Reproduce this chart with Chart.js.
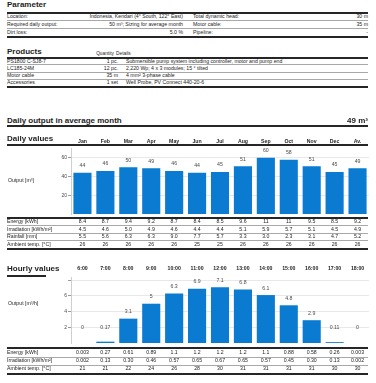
<!DOCTYPE html>
<html>
<head>
<meta charset="utf-8">
<script src="https://cdn.jsdelivr.net/npm/chart.js@4.4.1/dist/chart.umd.min.js"></script>
<style>
  body { margin: 0; width: 376px; height: 383px; background: #fff; position: relative; overflow: hidden;
         font-family: "Liberation Sans", Arial, sans-serif; color: #1e1e1e; }
  .t { position: absolute; white-space: nowrap; line-height: 1; }
  .thin { position: absolute; left: 7px; width: 361px; height: 1px; background: #a8a8a8; }
  .thick { position: absolute; left: 7px; width: 361px; height: 2px; background: #262626; }
  canvas { position: absolute; left: 0; }
</style>
</head>
<body>
<canvas id="dailyChart" style="top:130px" width="376" height="88"></canvas>
<canvas id="hourlyChart" style="top:262px" width="376" height="85"></canvas>
<script>
const months = ["Jan", "Feb", "Mar", "Apr", "May", "Jun", "Jul", "Aug", "Sep", "Oct", "Nov", "Dec", "Av."];
const dailyOutput = [44, 46, 50, 49, 46, 44, 45, 51, 60, 58, 51, 45, 49];
const dailyEnergy = ["8.4", "8.7", "9.4", "9.2", "8.7", "8.4", "8.5", "9.6", "11", "11", "9.5", "8.5", "9.2"];
const dailyIrradiation = ["4.5", "4.6", "5.0", "4.9", "4.6", "4.4", "4.4", "5.1", "5.9", "5.7", "5.1", "4.5", "4.9"];
const dailyRainfall = ["5.5", "5.6", "6.3", "6.3", "9.0", "7.7", "5.7", "3.3", "3.0", "2.3", "3.1", "4.7", "5.2"];
const dailyTemp = ["26", "26", "26", "26", "26", "25", "25", "26", "26", "26", "26", "26", "26"];
const dailyTicks = [20, 40, 60];

const hours = ["6:00", "7:00", "8:00", "9:00", "10:00", "11:00", "12:00", "13:00", "14:00", "15:00", "16:00", "17:00", "18:00"];
const hourlyOutput = [0, 0.17, 3.1, 5, 6.3, 6.9, 7.1, 6.8, 6.1, 4.8, 2.9, 0.11, 0];
const hourlyEnergy = ["0.003", "0.27", "0.61", "0.89", "1.1", "1.2", "1.2", "1.2", "1.1", "0.88", "0.58", "0.26", "0.003"];
const hourlyIrradiation = ["0.002", "0.13", "0.30", "0.46", "0.57", "0.65", "0.67", "0.65", "0.57", "0.45", "0.30", "0.13", "0.002"];
const hourlyTemp = ["21", "21", "22", "24", "26", "28", "30", "31", "31", "31", "31", "30", "30"];
const hourlyTicks = [2, 4, 6, 8];

const paramRows = [
  ["Location:", "Indonesia, Kendari (4° South, 122° East)", "Total dynamic head:", "30 m"],
  ["Required daily output:", "50 m³; Sizing for average month", "Motor cable:", "35 m"],
  ["Dirt loss:", "5.0 %", "Pipeline:", "-"],
];
const productRows = [
  ["PS1800 C-SJ8-7", "1 pc.", "Submersible pump system including controller, motor and pump end"],
  ["LC185-24M", "12 pc.", "2,220 Wp; 4 x 3 modules; 15 ° tilted"],
  ["Motor cable", "35 m", "4 mm² 3-phase cable"],
  ["Accessories", "1 set", "Well Probe, PV Connect 440-20-6"],
];

const BLUE = "#0a7bd0";
const FONT = '"Liberation Sans", Arial, sans-serif';

// place a text by the centre of its capitals
function put(x, cy, text, size, opt) {
  opt = opt || {};
  const d = document.createElement("div");
  d.className = "t";
  d.textContent = text;
  d.style.fontSize = size + "px";
  d.style.top = (cy - size * 0.49) + "px";
  if (opt.bold) d.style.fontWeight = "bold";
  if (opt.color) d.style.color = opt.color;
  if (opt.align === "right") {
    d.style.right = (376 - x) + "px";
  } else if (opt.align === "center") {
    d.style.left = (x - 20) + "px";
    d.style.width = "40px";
    d.style.textAlign = "center";
  } else {
    d.style.left = x + "px";
  }
  document.body.appendChild(d);
}
function line(y, cls, x1, x2) {
  const d = document.createElement("div");
  d.className = cls;
  d.style.top = y + "px";
  if (x1 != null) { d.style.left = x1 + "px"; d.style.width = (x2 - x1) + "px"; }
  document.body.appendChild(d);
}

// Parameter
put(7, 5.2, "Parameter", 8, { bold: true });
line(12, "thick");
[16.8, 24.6, 32.6].forEach((cy, i) => {
  const r = paramRows[i];
  put(7, cy, r[0], 5.2);
  put(183, cy, r[1], 5.2, { align: "right" });
  put(193, cy, r[2], 5.2);
  put(368, cy, r[3], 5.2, { align: "right" });
});
line(20, "thin"); line(28, "thin"); line(36, "thick");

// Products
put(7, 51.5, "Products", 8, { bold: true });
put(114, 54.6, "Quantity", 4.8, { align: "right" });
put(116, 54.6, "Details", 4.8);
line(57, "thick");
[61.3, 68.4, 75.7, 83].forEach((cy, i) => {
  const r = productRows[i];
  put(7, cy, r[0], 5.2);
  put(118, cy, r[1], 5.2, { align: "right" });
  put(126, cy, r[2], 5.2);
});
line(64, "thin"); line(72, "thin"); line(79, "thin"); line(86, "thick");

// Daily output heading
put(7, 120.8, "Daily output in average month", 8, { bold: true });
put(368, 120.8, "49 m³", 8, { bold: true, align: "right" });
line(125, "thick");
put(7, 139, "Daily values", 8, { bold: true });
line(144, "thick");
put(8, 180.7, "Output [m³]", 5.2);

// Hourly heading
put(7, 268.6, "Hourly values", 8, { bold: true });
line(275, "thick", 7, 46);
put(8, 303.7, "Output [m³/h]", 5.2);

const barLabels = {
  id: "barLabels",
  afterDatasetsDraw(chart, args, opts) {
    const ctx = chart.ctx;
    const ys = chart.scales.y;
    const data = chart.data.datasets[0].data;
    ctx.save();
    ctx.font = "5.2px " + FONT;
    ctx.fillStyle = "#4a4a4a";
    ctx.textAlign = "center";
    ctx.textBaseline = "middle";
    chart.getDatasetMeta(0).data.forEach((bar, i) => {
      const y = Math.min(bar.y, ys.getPixelForValue(opts.minValue || 0)) - 7;
      ctx.fillText(String(data[i]), bar.x, y);
    });
    ctx.restore();
  },
};

function makeChart(id, labels, values, max, keepTicks, hideLabel, axisHeight, pad, minValue) {
  return new Chart(document.getElementById(id), {
    type: "bar",
    data: {
      labels,
      datasets: [{ data: values, backgroundColor: BLUE, borderWidth: 0, barPercentage: 0.79, categoryPercentage: 1 }],
    },
    plugins: [barLabels],
    options: {
      responsive: false,
      animation: false,
      layout: { padding: { left: 0, right: 7, top: 0, bottom: 0 } },
      plugins: { legend: { display: false }, tooltip: { enabled: false }, barLabels: { minValue } },
      scales: {
        x: {
          position: "top",
          grid: { display: false, drawTicks: false },
          border: { display: false },
          ticks: { color: "#1e1e1e", padding: pad, maxRotation: 0, autoSkip: false, font: { family: FONT, size: 5.2, weight: "bold" } },
          afterFit: (s) => { s.height = axisHeight; },
        },
        y: {
          min: 0,
          max,
          ticks: {
            stepSize: 2,
            color: "#4a4a4a",
            padding: 1,
            font: { family: FONT, size: 5 },
            callback: (v) => (hideLabel.includes(v) ? "" : v),
          },
          afterBuildTicks: (s) => { s.ticks = keepTicks.map((v) => ({ value: v })); },
          grid: { color: "#e8e8e8", tickColor: "#9a9a9a", tickLength: 3 },
          border: { color: "#cfcfcf" },
          afterFit: (s) => { s.width = 71; },
        },
      },
    },
  });
}

const daily = makeChart("dailyChart", months, dailyOutput, 70, dailyTicks, [], 18.5, 3.9, 0);
const hourly = makeChart("hourlyChart", hours, hourlyOutput, 8.4, hourlyTicks, [8], 15, 5.2, 1.1);

// value rows under the charts, one column per category of the chart's own x scale
function valueRows(chart, rows, centers) {
  const xs = chart.scales.x;
  rows.forEach((r, k) => {
    put(7, centers[k], r[0], 5.2);
    r[1].forEach((v, i) => put(xs.getPixelForValue(i), centers[k], v, 5.2, { align: "center" }));
  });
}
valueRows(daily, [["Energy [kWh]", dailyEnergy], ["Irradiation [kWh/m²]", dailyIrradiation],
  ["Rainfall [mm]", dailyRainfall], ["Ambient temp. [°C]", dailyTemp]], [221.5, 229.2, 236.9, 244.6]);
line(217, "thick"); line(225, "thin"); line(233, "thin"); line(240, "thin"); line(248, "thick");

valueRows(hourly, [["Energy [kWh]", hourlyEnergy], ["Irradiation [kWh/m²]", hourlyIrradiation],
  ["Ambient temp. [°C]", hourlyTemp]], [353, 361, 369]);
line(347, "thick"); line(357, "thin"); line(365, "thin"); line(373, "thick");
</script>
</body>
</html>
